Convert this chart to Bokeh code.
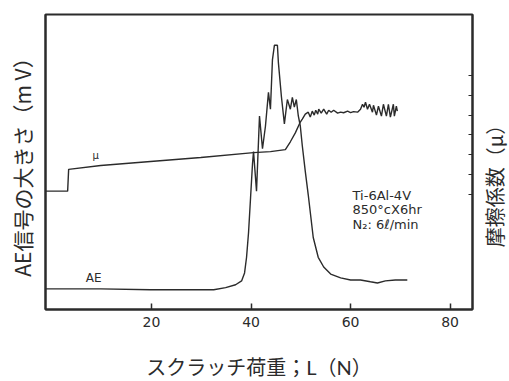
import math
from bokeh.plotting import figure
from bokeh.layouts import row
from bokeh.models import Range1d, LinearAxis, FixedTicker
from bokeh.core.properties import value
from bokeh.embed import file_html
from bokeh.resources import INLINE

# Scratch load L (N) and AE signal (arbitrary mV scale 0-100)
ae_load = [-1.3, 9.8, 19.8, 32.5, 34.9, 36.9, 38.1, 38.7, 39.1, 39.5, 39.9, 40.3, 40.5,
           41.1, 41.7, 42.3, 42.9, 43.5, 43.9, 44.3, 44.7, 45.3, 45.5, 46.1, 46.7, 47.3,
           47.9, 48.3, 48.7, 49.1, 49.5, 49.9, 50.3, 50.9, 51.5, 52.5, 53.5, 54.6, 56.0,
           58.0, 60.0, 62.0, 64.0, 65.4, 67.0, 69.0, 71.4]
ae_val = [7.0, 7.0, 6.7, 6.7, 7.4, 8.4, 9.7, 12.4, 17.7, 26.1, 37.8, 49.5, 53.5,
          40.1, 65.6, 54.5, 62.2, 73.6, 67.9, 84.6, 89.6, 89.6, 83.6, 72.2, 62.9, 71.2,
          67.9, 71.9, 68.6, 71.2, 65.6, 62.2, 55.5, 46.8, 38.8, 24.4, 17.7, 14.4, 12.0,
          10.7, 10.0, 10.0, 9.4, 9.0, 9.7, 10.0, 10.0]

# Friction coefficient mu
mu_load = [-1.3, 3.15, 3.35, 9.8, 19.8, 29.9, 40.5, 43.9, 46.9, 47.9, 48.9, 49.9,
           50.3, 50.9, 51.5, 51.9, 52.3, 52.7, 53.0, 53.4, 53.6, 54.1, 54.6, 55.2,
           55.6, 56.1, 56.6, 57.4, 58.0, 58.6, 59.4, 60.0, 60.6, 61.4, 62.0, 62.4,
           62.7, 63.0, 63.4, 63.8, 64.4, 64.6, 65.2, 65.6, 66.2, 66.6, 67.2, 67.6,
           68.0, 68.6, 68.8, 69.2, 69.4]
mu_val = [0.215, 0.215, 0.325, 0.345, 0.365, 0.385, 0.41, 0.415, 0.425, 0.465, 0.51, 0.565,
          0.58, 0.605, 0.615, 0.59, 0.62, 0.60, 0.625, 0.605, 0.63, 0.61, 0.63, 0.605,
          0.625, 0.615, 0.625, 0.61, 0.615, 0.612, 0.62, 0.613, 0.618, 0.615, 0.63, 0.655,
          0.64, 0.665, 0.63, 0.655, 0.615, 0.65, 0.60, 0.645, 0.595, 0.655, 0.595, 0.655,
          0.59, 0.655, 0.595, 0.645, 0.62]

x_ticks = [20, 40, 60, 80]
mu_ticks = [0.2, 0.3, 0.4, 0.5, 0.6, 0.7, 0.8]

note_lines = ["Ti-6Al-4V", "850°cX6hr", "N₂: 6ℓ/min"]
note_x = [60.4, 60.4, 60.4]
note_y = [38.5, 33.8, 28.8]

x_title = "スクラッチ荷重；L（N）"
y_title = "AE信号の大きさ（m V）"
y2_title = "摩擦係数（μ）"

INK = "#2b2b2b"
CJK = "Noto Sans CJK JP"

p = figure(width=479, height=381, output_backend="svg", toolbar_location=None,
           x_range=Range1d(-1.3, 84.5), y_range=Range1d(0, 100),
           min_border_left=45, min_border_right=7, min_border_top=14, min_border_bottom=68)
p.extra_y_ranges = {"mu": Range1d(-0.385, 1.11)}
p.xgrid.visible = False
p.ygrid.visible = False
p.outline_line_color = INK
p.outline_line_width = 2
p.background_fill_color = "white"
p.border_fill_color = "white"

p.line(ae_load, ae_val, line_color=INK, line_width=1.4)
p.line(mu_load, mu_val, line_color=INK, line_width=1.4, y_range_name="mu")

p.text(x=[8.8], y=[52.2], text=["μ"], text_font_size="10px", text_color=INK,
       text_align="center", text_baseline="middle", text_font=value("DejaVu Sans"))
p.text(x=[6.8], y=[10.7], text=["AE"], text_font_size="12px", text_color=INK,
       text_align="left", text_baseline="middle", text_font=value("DejaVu Sans"))
p.text(x=note_x, y=note_y, text=note_lines, text_font_size="13px", text_color=INK,
       text_align="left", text_baseline="middle", text_font=value("DejaVu Sans"))

# bottom axis
xa = p.xaxis[0]
xa.ticker = FixedTicker(ticks=x_ticks)
xa.minor_tick_line_color = None
xa.major_tick_in = 6
xa.major_tick_out = 0
xa.major_tick_line_color = INK
xa.major_tick_line_width = 1.5
xa.axis_line_color = INK
xa.axis_line_width = 2
xa.major_label_text_font = "DejaVu Sans"
xa.major_label_text_font_size = "14px"
xa.major_label_text_color = INK
xa.major_label_standoff = 7
xa.axis_label = x_title
xa.axis_label_text_font = "Lato, Noto Sans CJK JP"
xa.axis_label_text_font_size = "20px"
xa.axis_label_text_font_style = "normal"
xa.axis_label_text_color = INK
xa.axis_label_standoff = 25

# left axis
ya = p.yaxis[0]
ya.ticker = FixedTicker(ticks=[])
ya.minor_tick_line_color = None
ya.major_tick_line_color = None
ya.major_label_standoff = 0
ya.axis_line_color = INK
ya.axis_line_width = 2
ya.axis_label = y_title
ya.axis_label_text_font = CJK
ya.axis_label_text_font_size = "21px"
ya.axis_label_text_font_style = "normal"
ya.axis_label_text_color = INK
ya.axis_label_standoff = 9

# right axis (mu), ticks only
ra = LinearAxis(y_range_name="mu", ticker=FixedTicker(ticks=mu_ticks))
ra.minor_tick_line_color = None
ra.major_tick_in = 4
ra.major_tick_out = 0
ra.major_tick_line_color = INK
ra.major_label_overrides = {t: "" for t in mu_ticks}
ra.major_label_standoff = 0
ra.axis_line_color = INK
ra.axis_line_width = 2
p.add_layout(ra, "right")

# narrow strip holding the right-hand title (reads bottom to top)
q = figure(width=30, height=381, output_backend="svg", toolbar_location=None,
           x_range=Range1d(0, 30), y_range=Range1d(0, 381),
           x_axis_location=None, y_axis_location=None, min_border=0)
q.outline_line_color = None
q.xgrid.visible = False
q.ygrid.visible = False
q.background_fill_color = "white"
q.border_fill_color = "white"
q.text(x=[15], y=[166], text=[y2_title], angle=math.pi / 2, text_font=value(CJK),
       text_font_size="20px", text_color=INK, text_align="center", text_baseline="middle")

layout = row(p, q, spacing=0)
open("out.html", "w").write(file_html(layout, INLINE))
